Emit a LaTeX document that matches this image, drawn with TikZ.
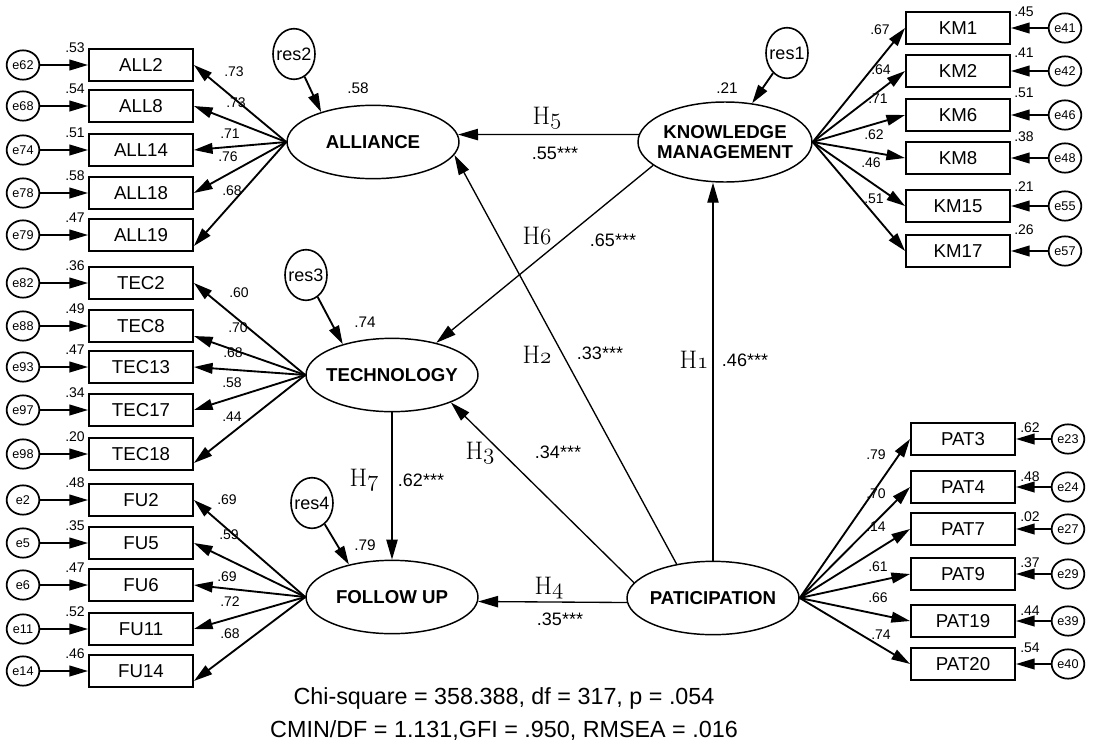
\documentclass[tikz,border=0pt]{standalone}
\usepackage{fontspec}
\usepackage{tikz}
\usetikzlibrary{arrows.meta,shapes.geometric,calc}
\newfontfamily\arial{Liberation Sans}
\newcommand{\osn}[1]{{\usefont{OML}{cmm}{m}{it}#1}}

\begin{document}
\begin{tikzpicture}[x=0.75pt,y=-0.75pt,>=Latex]
  \tikzstyle{obs}=[draw,line width=1.4pt,minimum width=78pt,minimum height=24pt,inner sep=0pt,font=\arial\fontsize{14}{14}\selectfont]
  \tikzstyle{err}=[draw,ellipse,line width=1.3pt,minimum width=24.5pt,minimum height=22pt,inner sep=0pt,font=\arial\fontsize{9.5}{9.5}\selectfont]
  \tikzstyle{res}=[draw,ellipse,line width=1.2pt,minimum width=31.5pt,minimum height=38pt,inner xsep=-4pt,inner ysep=0pt,font=\arial\fontsize{13.5}{13.5}\selectfont]
  \tikzstyle{lat}=[draw,ellipse,line width=1.1pt,minimum width=129pt,minimum height=55pt,inner xsep=-6pt,inner ysep=0pt,align=center,font=\arial\bfseries\fontsize{14}{15}\selectfont]
  \tikzstyle{num}=[inner sep=0pt,font=\arial\fontsize{10.5}{10.5}\selectfont]
  \tikzstyle{coef}=[inner sep=0pt,font=\arial\fontsize{13.5}{13.5}\selectfont]
  \tikzstyle{hyp}=[inner sep=0pt,font=\rmfamily\fontsize{19}{19}\selectfont]
  \tikzstyle{mv}=[-{Triangle[length=14pt,width=8pt]},line width=1.4pt]
  \tikzstyle{sp}=[-{Triangle[length=15pt,width=8.5pt]},line width=1pt]
  \useasboundingbox (0,0) rectangle (1093,750);

  % latent variables
  \node[lat] (ALL) at (373,142) {ALLIANCE};
  \node[lat,minimum width=130.5pt,minimum height=60pt] (KM) at (725,142) {KNOWLEDGE\\MANAGEMENT};
  \node[lat] (TEC) at (392,375) {TECHNOLOGY};
  \node[lat] (FU) at (392,597) {FOLLOW UP};
  \node[lat] (PAT) at (713,598) {PATICIPATION};

  % residuals
  \node[res] (res2) at (294,54) {res2};
  \node[res] (res1) at (787,53) {res1};
  \node[res] (res3) at (306,275) {res3};
  \node[res] (res4) at (312,503) {res4};
  \draw[mv] (res2) -- (ALL.150);
  \draw[mv] (res1) -- (KM.55);
  \draw[mv] (res3) -- (TEC.148);
  \draw[mv] (res4) -- (FU.143);
  \node[num,font=\arial\fontsize{11.5}{11.5}\selectfont] (sq2) at (358,88) {.58};
  \node[num,font=\arial\fontsize{11.5}{11.5}\selectfont] (sq1) at (727,88) {.21};
  \node[num,font=\arial\fontsize{11.5}{11.5}\selectfont] (sq3) at (365,322) {.74};
  \node[num,font=\arial\fontsize{11.5}{11.5}\selectfont] (sq4) at (365,545) {.79};

  % indicators on the left
  \foreach \n/\y/\e/\r/\l/\lx/\ly/\d/\f in {ALL2/65/e62/.53/.73/234/72/0/ALL,ALL8/106/e68/.54/.73/236/103/0/ALL,
      ALL14/150/e74/.51/.71/230/134/0/ALL,ALL18/193/e78/.58/.76/228/157/0/ALL,ALL19/235/e79/.47/.68/232/191/11/ALL,
      TEC2/283/e82/.36/.60/239/293/0/TEC,TEC8/326/e88/.49/.70/238/328/10/TEC,TEC13/367/e93/.47/.68/233/353/0/TEC,
      TEC17/410/e97/.34/.58/232/383/0/TEC,TEC18/454/e98/.20/.44/232/417/9/TEC,
      FU2/500/e2/.48/.69/227/500/0/FU,FU5/543/e5/.35/.59/229/535/0/FU,FU6/585/e6/.47/.69/227/577/0/FU,
      FU11/629/e11/.52/.72/230/602/0/FU,FU14/671/e14/.46/.68/230/634/10/FU}
  {
    \node[obs] (\n) at (141,\y) {\n};
    \node[err] (\e) at (23,\y) {\e};
    \draw[mv] (\e) -- (\n);
    \node[num] (r\n) at (75,\y-17) {\r};
    \node[num] (l\n) at (\lx,\ly) {\l};
    \draw[mv] (\f.west) -- ($(\n.east)+(0,\d)$);
  }

  % indicators on the right
  \foreach \n/\y/\e/\r/\ry/\l/\lx/\ly in {KM1/28/e41/.45/12/.67/880/30,KM2/71/e42/.41/53/.64/881/70,
      KM6/115/e46/.51/93/.71/878/99,KM8/158/e48/.38/137/.62/874/135,KM15/206/e55/.21/187/.46/871/163,
      KM17/251/e57/.26/230/.51/874/199}
  {
    \node[obs] (\n) at (958,\y) {\n};
    \node[err] (\e) at (1065,\y) {\e};
    \draw[mv] (\e) -- (\n);
    \node[num] (r\n) at (1024,\ry) {\r};
    \node[num] (l\n) at (\lx,\ly) {\l};
    \draw[mv] (KM.east) -- (\n.west);
  }
  \foreach \n/\y/\e/\r/\ry/\l/\lx/\ly in {PAT3/439/e23/.62/428/.79/876/455,PAT4/487/e24/.48/477/.70/876/494,
      PAT7/529/e27/.02/517/.14/876/527,PAT9/574/e29/.37/563/.61/878/567,PAT19/621/e39/.44/611/.66/878/598,
      PAT20/664/e40/.54/648/.74/881/635}
  {
    \node[obs] (\n) at (963,\y) {\n};
    \node[err] (\e) at (1068,\y) {\e};
    \draw[mv] (\e) -- (\n);
    \node[num] (r\n) at (1030,\ry) {\r};
    \node[num] (l\n) at (\lx,\ly) {\l};
    \draw[mv] (PAT.east) -- (\n.west);
  }

  % structural paths
  \draw[sp] (KM.175) -- (ALL.5);
  \draw[sp] (KM.198) -- (TEC.36);
  \draw[sp] (PAT.137) -- (ALL.-9);
  \draw[sp] (PAT.north) -- (PAT.north |- KM.south);
  \draw[sp] (PAT.169) -- (TEC.-25);
  \draw[sp] (TEC.south) -- (FU.north);
  \draw[sp] (PAT.183) -- (FU.-3);
  \foreach \h/\hx/\hy/\c/\cx/\cy in {5/547/118/.55/555/153,6/537/236/.65/613/240,2/537/355/.33/600/353,
      1/694/360/.46/745/360,3/480/453/.34/558/452,7/364/480/.62/421/480,4/549/588/.35/560/619}
  {
    \node[hyp] (h\h) at (\hx,\hy) {H\osn{\h}};
    \node[coef] (c\h) at (\cx,\cy) {\c***};
  }

  % fit indices
  \node[align=center,inner sep=0pt,font=\arial\fontsize{17.5}{25}\selectfont] (fit) at (504,714)
    {Chi-square = 358.388, df = 317, p = .054\\CMIN/DF = 1.131,GFI = .950, RMSEA = .016};
\end{tikzpicture}
\end{document}
